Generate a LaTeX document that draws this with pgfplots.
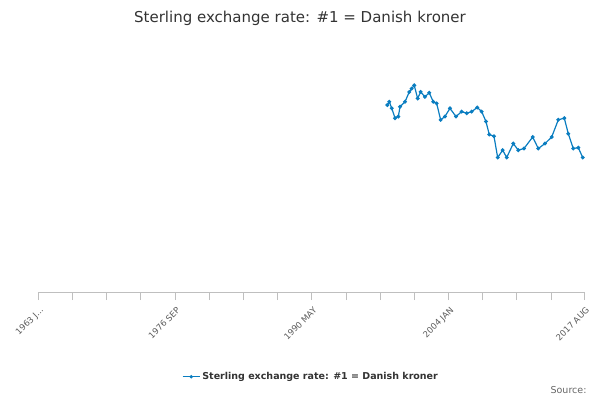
\documentclass[border=0pt]{standalone}
\usepackage{pgfplots}
\pgfplotsset{compat=1.18}
\usepackage{fontspec}
\setmainfont{DejaVu Sans}
\definecolor{line}{HTML}{0A7DC0}
\definecolor{txt}{HTML}{333333}
\begin{document}
\begin{tikzpicture}[x=1pt,y=1pt]
\path (0,0) rectangle (600,400);
\node[text=txt,font=\fontsize{15}{18}\selectfont] at (300,382) {Sterling exchange rate: \#1 = Danish kroner};
\begin{axis}[at={(38pt,108pt)},anchor=south west,scale only axis,width=546pt,height=246pt,
 xmin=1963,xmax=2017.58,ymin=0,ymax=15,
 ytick={0,5,10,15},ymajorgrids,grid style={draw=black!12},
 axis x line*=bottom,axis y line=none,
 x axis line style={draw=black!25},
 xtick={1963,1976.667,1990.333,2004,2017.583},
 xticklabels={{1963 J{.}{.}{.}},{1976 SEP},{1990 MAY},{2004 JAN},{2017 AUG}},
 minor xtick={1966.42,1969.83,1973.25,1980.08,1983.5,1986.92,1993.75,1997.17,2000.58,2007.42,2010.83,2014.25},
 tick align=outside,major tick length=8pt,minor tick length=8pt,
 xtick style={draw=black!25},ytick style={draw=none},
 x tick label style={rotate=45,anchor=north east,font=\fontsize{8.5}{10}\selectfont,text=black!65,yshift=-2pt},
 y tick label style={font=\fontsize{8.5}{10}\selectfont,text=black!65},
 /pgf/number format/assume math mode=true,
 legend style={at={(0.5,-0.31)},anchor=north,draw=none,font=\bfseries\fontsize{9.5}{11}\selectfont,text=txt},
 legend image post style={mark size=1pt},
]
\addplot[color=line,line width=1.2pt,mark=*,mark size=1.3pt] coordinates {
(1997.92,11.4)(1998.12,11.6)(1998.36,11.2)(1998.69,10.6)(1999.02,10.7)(1999.19,11.3)
(1999.69,11.6)(2000.11,12.2)(2000.35,12.4)(2000.61,12.6)(2000.95,11.8)(2001.25,12.2)
(2001.68,11.9)(2002.11,12.15)(2002.51,11.6)(2002.85,11.5)(2003.25,10.5)(2003.68,10.7)
(2004.18,11.2)(2004.78,10.7)(2005.35,11.0)(2005.85,10.9)(2006.35,11.0)(2006.91,11.25)
(2007.35,11.0)(2007.78,10.4)(2008.11,9.6)(2008.58,9.5)(2008.95,8.2)(2009.45,8.65)
(2009.85,8.2)(2010.51,9.05)(2011.01,8.65)(2011.58,8.75)(2012.45,9.45)(2013.01,8.75)
(2013.68,9.05)(2014.35,9.45)(2015.01,10.5)(2015.61,10.6)(2016.01,9.65)(2016.51,8.75)
(2017.01,8.8)(2017.45,8.2)};
\addlegendentry{Sterling exchange rate: \#1 = Danish kroner}
\end{axis}
\node[anchor=east,text=black!60,font=\fontsize{9.5}{11}\selectfont] at (590,10) {Source:};
\end{tikzpicture}
\end{document}
